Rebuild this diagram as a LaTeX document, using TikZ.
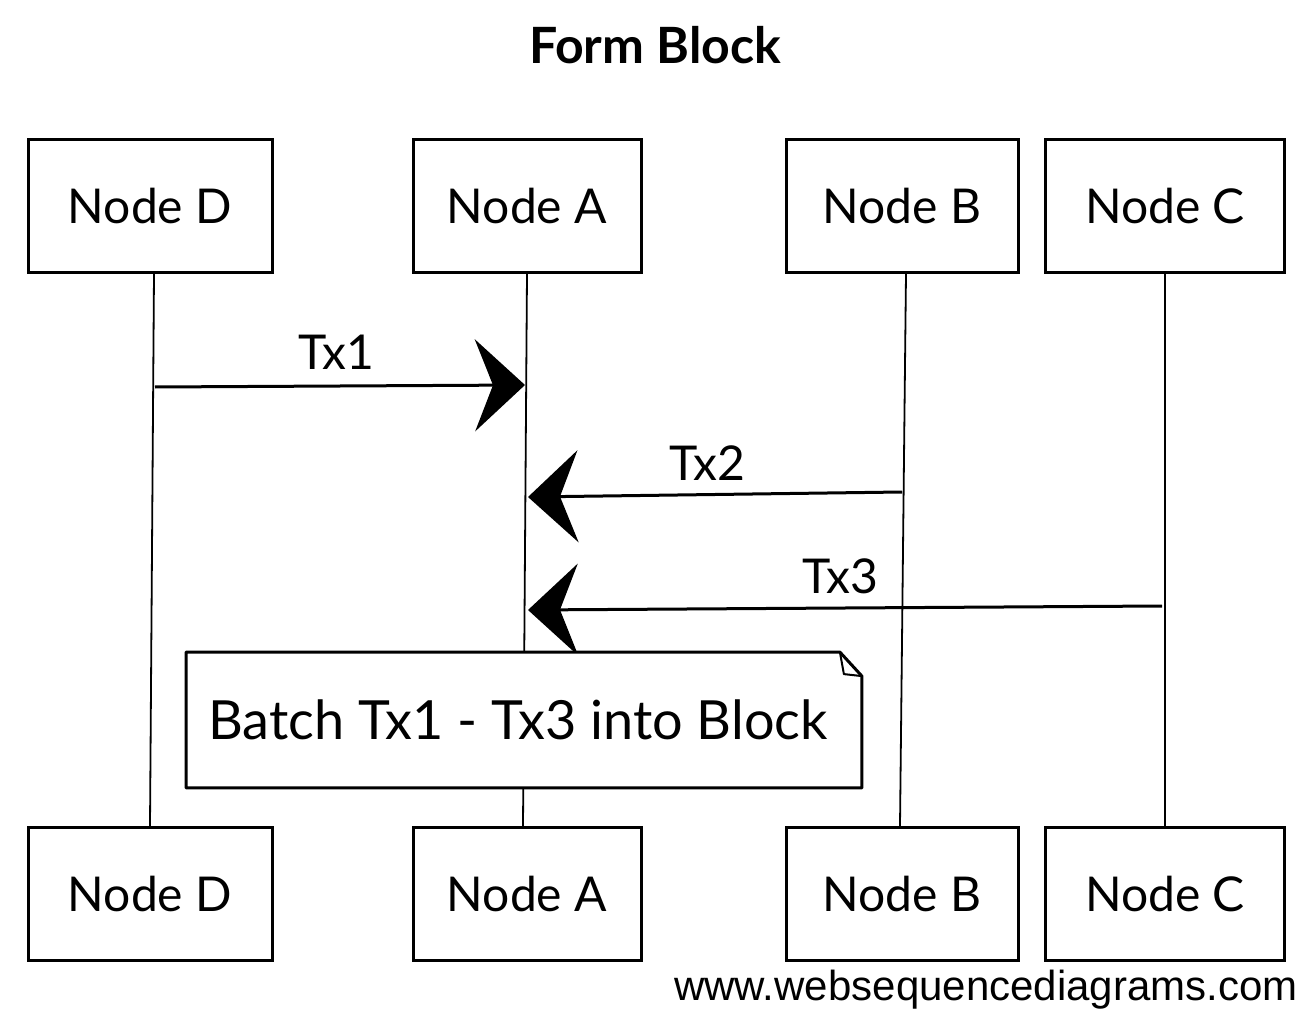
\documentclass[tikz,border=0pt]{standalone}
\usepackage{fontspec}
\setmainfont{Lato}
\newfontfamily\wmfont{Liberation Sans}
\usetikzlibrary{arrows.meta}
\begin{document}
\begin{tikzpicture}[x=0.5pt,y=-0.5pt,
  actor/.style={draw, line width=1.5pt, fill=white, inner sep=0pt,
    minimum height=66.5pt, font=\fontsize{24}{28}\selectfont},
  life/.style={line width=0.9pt},
  msg/.style={line width=1.5pt, -{Stealth[length=25pt,width=46pt,inset=9pt]}},
  lbl/.style={font=\fontsize{24}{28}\selectfont, inner sep=0pt},
  notebox/.style={draw, line width=1.5pt, fill=white, line join=round}]
\useasboundingbox (0,0) rectangle (1303,1011);
\fill[white] (0,0) rectangle (1303,1011);

% title
\node[font=\bfseries\fontsize{25}{30}\selectfont] (title) at (655,45) {Form Block};

% participants (top)
\node[actor, minimum width=122pt] (Dt) at (150,206) {Node D};
\node[actor, minimum width=114pt] (At) at (527,206) {Node A};
\node[actor, minimum width=116pt] (Bt) at (902,206) {Node B};
\node[actor, minimum width=119.5pt] (Ct) at (1165,206) {Node C};
% participants (bottom)
\node[actor, minimum width=122pt] (Db) at (150,894) {Node D};
\node[actor, minimum width=114pt] (Ab) at (527,894) {Node A};
\node[actor, minimum width=116pt] (Bb) at (902,894) {Node B};
\node[actor, minimum width=119.5pt] (Cb) at (1165,894) {Node C};

% lifelines
\draw[life] ([xshift=2pt]Dt.south) -- (Db.north);
\draw[life] (At.south) -- ([xshift=-2pt]Ab.north);
\draw[life] ([xshift=2pt]Bt.south) -- ([xshift=-1pt]Bb.north);
\draw[life] (Ct.south) -- (Cb.north);

% message end points on lifelines
\coordinate (m1s) at (155,387);
\coordinate (m1e) at (525,385);
\coordinate (m2s) at (902,492);
\coordinate (m2e) at (528,497);
\coordinate (m3s) at (1162,606);
\coordinate (m3e) at (528,610);

\draw[msg] (m1s) -- (m1e);
\node[lbl] (l1) at (336,352) {Tx1};
\draw[msg] (m2s) -- (m2e);
\node[lbl] (l2) at (707,463) {Tx2};
\draw[msg] (m3s) -- (m3e);
\node[lbl] (l3) at (840,576) {Tx3};

% note
\node[minimum width=337.5pt, minimum height=67.5pt, inner sep=0pt] (note) at (524,720) {};
\draw[notebox] (note.south west) -- (note.north west)
  -- ([xshift=-11pt]note.north east) -- ([yshift=-12pt]note.north east)
  -- (note.south east) -- cycle;
\draw[line width=1pt, line join=round] ([xshift=-11pt]note.north east)
  -- ([xshift=-9pt,yshift=-11pt]note.north east) -- ([yshift=-12pt]note.north east);
\node[font=\fontsize{27}{32}\selectfont] (notetext) at ([xshift=-3pt]note.center) {Batch Tx1 - Tx3 into Block};

% watermark
\node[anchor=east, inner sep=0pt, font=\wmfont\fontsize{21}{24}\selectfont] (wm) at (1298,990) {www.websequencediagrams.com};
\end{tikzpicture}
\end{document}
